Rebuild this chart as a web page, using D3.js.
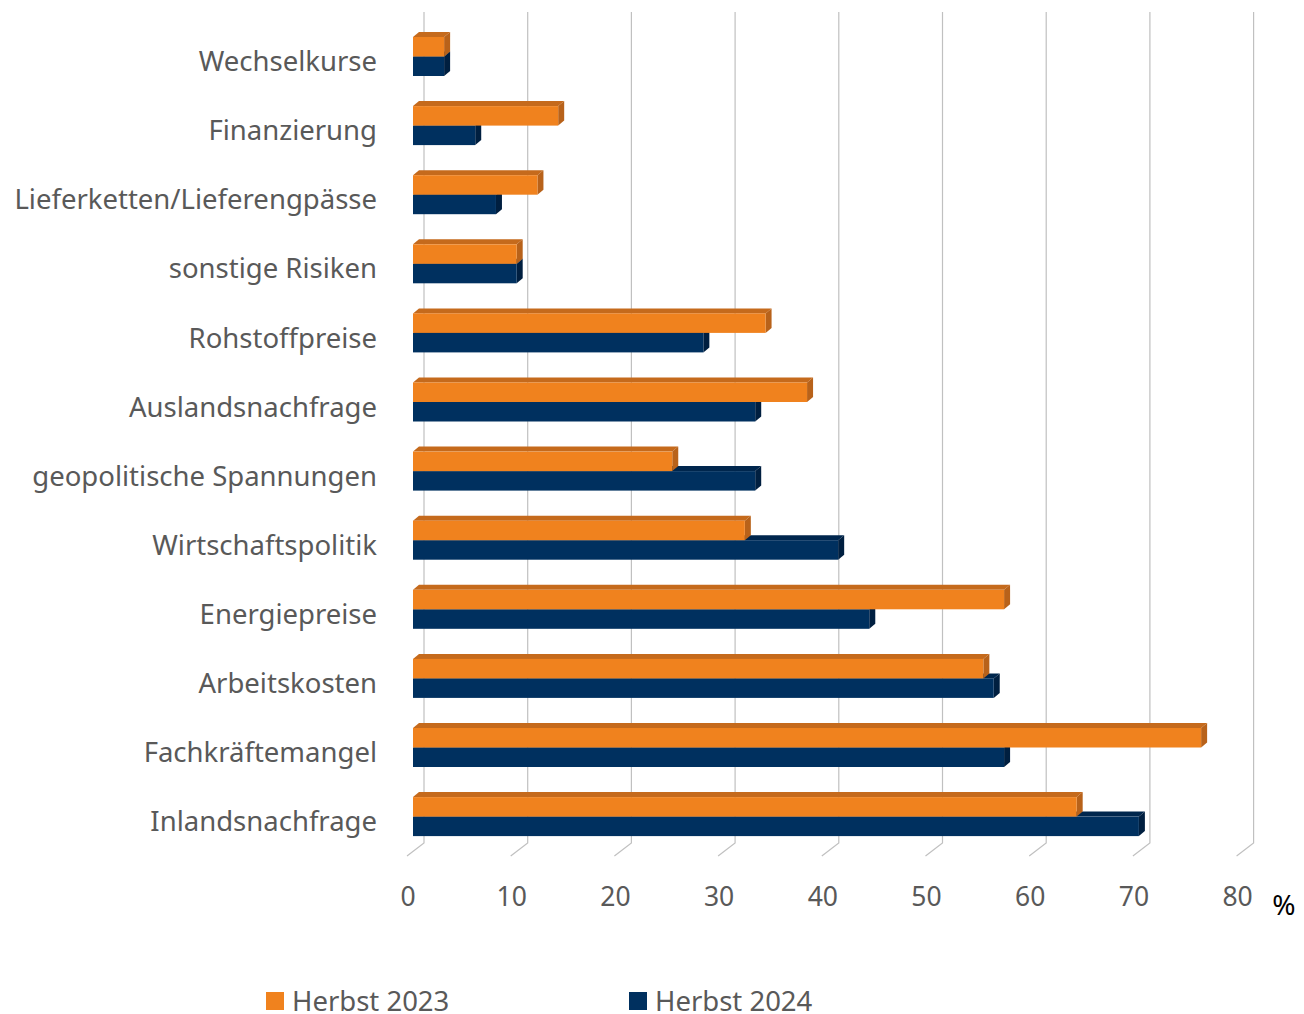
<!DOCTYPE html>
<html lang="de">
<head>
<meta charset="utf-8">
<title>Risiken</title>
<script src="https://cdn.jsdelivr.net/npm/d3@7/dist/d3.min.js"></script>
<style>
  body { margin: 0; background: #fff; }
  text { font-family: "Noto Sans", "Open Sans", sans-serif; }
</style>
</head>
<body>
<script>
// categories, top to bottom
var categories = ["Wechselkurse", "Finanzierung", "Lieferketten/Lieferengpässe", "sonstige Risiken",
  "Rohstoffpreise", "Auslandsnachfrage", "geopolitische Spannungen", "Wirtschaftspolitik",
  "Energiepreise", "Arbeitskosten", "Fachkräftemangel", "Inlandsnachfrage"];
var herbst2023 = [3, 14, 12, 10, 34, 38, 25, 32, 57, 55, 76, 64];
var herbst2024 = [3, 6, 8, 10, 28, 33, 33, 41, 44, 56, 57, 70];
var seriesNames = ["Herbst 2023", "Herbst 2024"];
var tickValues = [0, 10, 20, 30, 40, 50, 60, 70, 80];

var W = 1304, H = 1014;
var colors = { "Herbst 2023": "#F0821E", "Herbst 2024": "#00305F" };
var sideColors = { "Herbst 2023": "#B8621A", "Herbst 2024": "#001F40" };
var topColors = { "Herbst 2023": "#C56A1C", "Herbst 2024": "#00264D" };

var svg = d3.select("body").append("svg")
  .attr("width", W).attr("height", H);

// front plane scale of the bars
var x = d3.scaleLinear().domain([0, 80]).range([413, 413 + 80 * 10.37]);
var y = d3.scaleBand().domain(categories).range([6.9, 866.2]).padding(0.4356);
var ys = d3.scaleBand().domain(seriesNames).range([0, y.bandwidth()]);

// 3d offsets
var wallDx = 11, floorTop = 843, floorDx = -17, floorDy = 13;
var barDx = 6, barDy = -5;

// grid: back wall verticals + floor diagonals
var grid = svg.append("g").attr("stroke", "#c0c0c0").attr("stroke-width", 1.2).attr("fill", "none");
grid.selectAll("path").data(tickValues).enter().append("path")
  .attr("d", function(d) {
    var xw = x(d) + wallDx;
    return "M" + xw + ",12 L" + xw + "," + floorTop + " L" + (xw + floorDx) + "," + (floorTop + floorDy);
  });

// tick labels
svg.append("g").selectAll("text").data(tickValues).enter().append("text")
  .attr("x", function(d) { return x(d) - 5; })
  .attr("y", 906)
  .attr("text-anchor", "middle")
  .attr("font-size", 26.5)
  .attr("fill", "#595959")
  .text(function(d) { return d; });

svg.append("text").attr("x", 1284).attr("y", 915).attr("text-anchor", "middle")
  .attr("font-size", 28).attr("fill", "#000").text("%");

// bars
var rows = [];
categories.forEach(function(c, i) {
  rows.push({ cat: c, s: "Herbst 2023", v: herbst2023[i] });
  rows.push({ cat: c, s: "Herbst 2024", v: herbst2024[i] });
});
// draw navy first so the orange top face sits above it
rows.sort(function(a, b) { return a.s < b.s ? 1 : -1; });

var bars = svg.append("g").selectAll("g").data(rows).enter().append("g");
bars.each(function(d) {
  var g = d3.select(this);
  var x0 = x(0), x1 = x(d.v);
  var y0 = y(d.cat) + ys(d.s), h = ys.bandwidth();
  // top face
  g.append("path")
    .attr("d", "M" + x0 + "," + y0 + " L" + (x0 + barDx) + "," + (y0 + barDy) + " L" + (x1 + barDx) + "," + (y0 + barDy) + " L" + x1 + "," + y0 + "Z")
    .attr("fill", topColors[d.s]);
  // side face
  g.append("path")
    .attr("d", "M" + x1 + "," + y0 + " L" + (x1 + barDx) + "," + (y0 + barDy) + " L" + (x1 + barDx) + "," + (y0 + h + barDy) + " L" + x1 + "," + (y0 + h) + "Z")
    .attr("fill", sideColors[d.s]);
  // front face
  g.append("rect").attr("x", x0).attr("y", y0).attr("width", x1 - x0).attr("height", h)
    .attr("fill", colors[d.s]);
});

// category labels
svg.append("g").selectAll("text").data(categories).enter().append("text")
  .attr("x", 377)
  .attr("y", function(d) { return y(d) + y.bandwidth() / 2 + 5; })
  .attr("dy", "0.35em")
  .attr("text-anchor", "end")
  .attr("font-size", 27.5)
  .attr("fill", "#595959")
  .text(function(d) { return d; });

// legend
var legendX = [266, 629];
var leg = svg.append("g").selectAll("g").data(seriesNames).enter().append("g")
  .attr("transform", function(d, i) { return "translate(" + legendX[i] + ",992)"; });
leg.append("rect").attr("width", 18).attr("height", 18).attr("fill", function(d) { return colors[d]; });
leg.append("text").attr("x", 26).attr("y", 9).attr("dy", "0.35em")
  .attr("font-size", 27.5).attr("fill", "#595959").text(function(d) { return d; });
</script>
</body>
</html>
